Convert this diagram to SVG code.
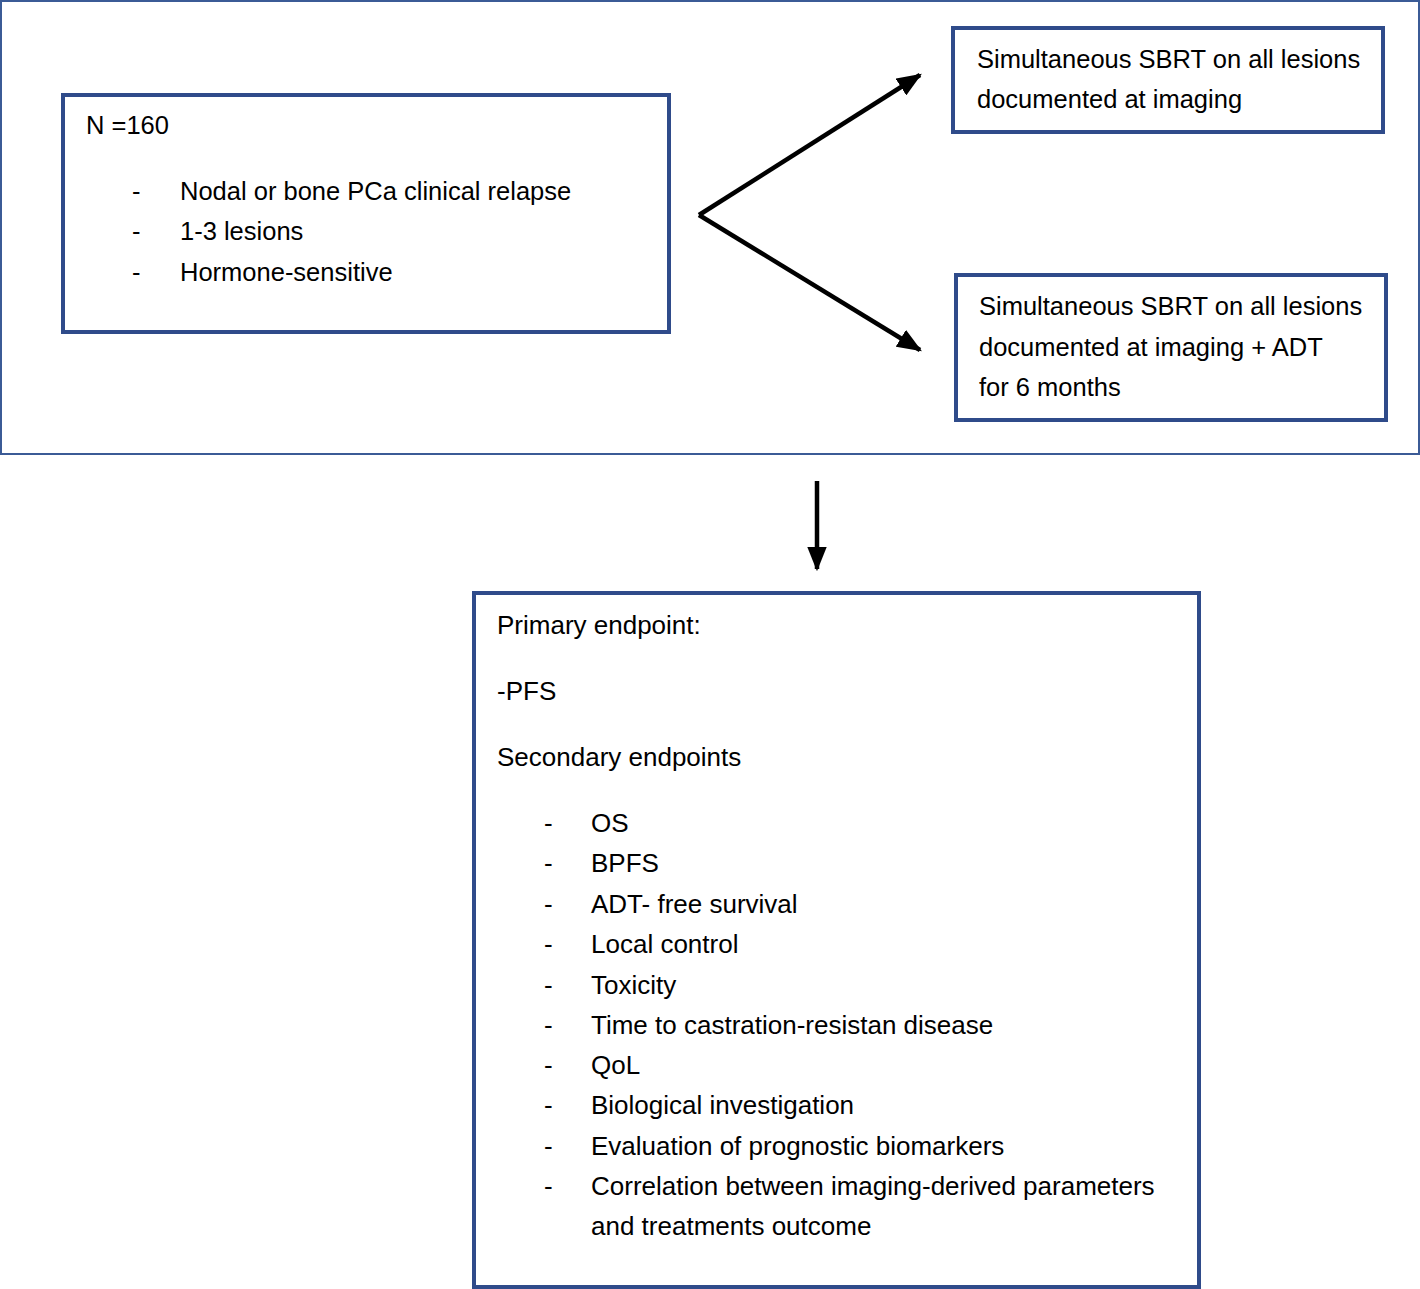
<svg xmlns="http://www.w3.org/2000/svg" width="1420" height="1289" viewBox="0 0 1420 1289">
<style>
.box{fill:#fff;stroke:#2f4b8a;stroke-width:4}
.outer{fill:#fff;stroke:#3b5b96;stroke-width:2}
.t{font-family:"Liberation Sans",Arial,sans-serif;font-size:25.5px;fill:#000}
.b{font-size:26px}
.con{stroke:#000;stroke-width:4.5;fill:none}
</style>
<defs>
<marker id="ah" markerWidth="5.5" markerHeight="4.4" refX="5" refY="2.2" orient="auto" markerUnits="strokeWidth">
<path d="M0,0 L5.5,2.2 L0,4.4 Z" fill="#000"/>
</marker>
</defs>
<rect class="outer" x="1" y="1" width="1418" height="453"/>
<g id="n160">
<rect class="box" x="63" y="95" width="606" height="237"/>
<text class="t" x="86" y="134">N =160</text>
<text class="t" x="132" y="200">-</text><text class="t" x="180" y="200">Nodal or bone PCa clinical relapse</text>
<text class="t" x="132" y="240">-</text><text class="t" x="180" y="240">1-3 lesions</text>
<text class="t" x="132" y="281">-</text><text class="t" x="180" y="281">Hormone-sensitive</text>
</g>
<g id="arm1">
<rect class="box" x="953" y="28" width="430" height="104"/>
<text class="t" x="977" y="68">Simultaneous SBRT on all lesions</text>
<text class="t" x="977" y="108">documented at imaging</text>
</g>
<g id="arm2">
<rect class="box" x="956" y="275" width="430" height="145"/>
<text class="t" x="979" y="315">Simultaneous SBRT on all lesions</text>
<text class="t" x="979" y="356">documented at imaging + ADT</text>
<text class="t" x="979" y="396">for 6 months</text>
</g>
<g id="endpoints">
<rect class="box" x="474" y="593" width="725" height="694"/>
<text class="t b" x="497" y="634">Primary endpoint:</text>
<text class="t b" x="497" y="700">-PFS</text>
<text class="t b" x="497" y="766">Secondary endpoints</text>
<g>
<text class="t b" x="544" y="832">-</text><text class="t b" x="591" y="832">OS</text>
<text class="t b" x="544" y="872">-</text><text class="t b" x="591" y="872">BPFS</text>
<text class="t b" x="544" y="913">-</text><text class="t b" x="591" y="913">ADT- free survival</text>
<text class="t b" x="544" y="953">-</text><text class="t b" x="591" y="953">Local control</text>
<text class="t b" x="544" y="994">-</text><text class="t b" x="591" y="994">Toxicity</text>
<text class="t b" x="544" y="1034">-</text><text class="t b" x="591" y="1034">Time to castration-resistan disease</text>
<text class="t b" x="544" y="1074">-</text><text class="t b" x="591" y="1074">QoL</text>
<text class="t b" x="544" y="1114">-</text><text class="t b" x="591" y="1114">Biological investigation</text>
<text class="t b" x="544" y="1155">-</text><text class="t b" x="591" y="1155">Evaluation of prognostic biomarkers</text>
<text class="t b" x="544" y="1195">-</text><text class="t b" x="591" y="1195">Correlation between imaging-derived parameters</text>
<text class="t b" x="591" y="1235">and treatments outcome</text>
</g>
</g>
<g id="connectors">
<path class="con" d="M699,215 L920,75" marker-end="url(#ah)"/>
<path class="con" d="M699,215 L920,350" marker-end="url(#ah)"/>
<path class="con" d="M817,481 L817,569" marker-end="url(#ah)"/>
</g>
</svg>
